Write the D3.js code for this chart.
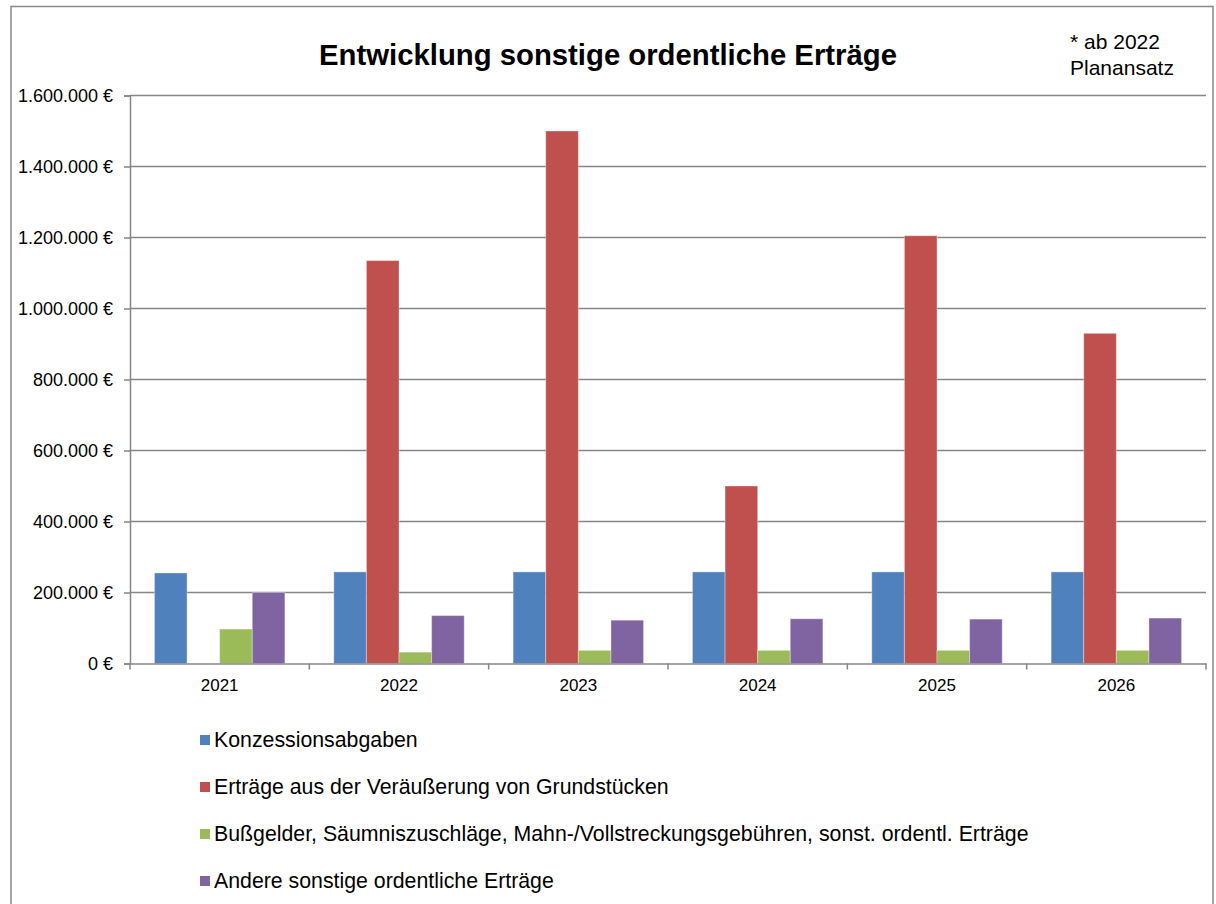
<!DOCTYPE html>
<html>
<head>
<meta charset="utf-8">
<script src="https://cdn.jsdelivr.net/npm/d3@7"></script>
<style>
  body { margin: 0; background: #fff; }
  svg { display: block; font-family: "Liberation Sans", Arial, sans-serif; }
</style>
</head>
<body>
<svg id="chart" width="1216" height="904"></svg>
<script>
const years = ['2021', '2022', '2023', '2024', '2025', '2026'];

const series = ['Konzessionsabgaben',
    'Erträge aus der Veräußerung von Grundstücken',
    'Bußgelder, Säumniszuschläge, Mahn-/Vollstreckungsgebühren, sonst. ordentl. Erträge',
    'Andere sonstige ordentliche Erträge'];

const konzession = [255000, 258000, 258000, 258000, 258000, 258000];
const grundstuecke = [0, 1135000, 1500000, 500000, 1205000, 930000];
const bussgelder = [97000, 32000, 37000, 37000, 37000, 37000];
const andere = [200000, 135000, 122000, 126000, 125000, 128000];

const yTicks = [0, 200000, 400000, 600000, 800000, 1000000, 1200000, 1400000, 1600000];

const colors = ['#4F81BD', '#C0504D', '#9BBB59', '#8064A2'];

const values = [konzession, grundstuecke, bussgelder, andere];
const rows = [];
years.forEach((y, i) => {
    series.forEach((s, j) => rows.push({ year: y, key: s, value: values[j][i] }));
});

const svg = d3.select('#chart');

// outer border of the chart area
svg.append('rect')
    .attr('x', 11).attr('y', 6.5)
    .attr('width', 1202).attr('height', 920)
    .attr('fill', 'none')
    .attr('stroke', '#898989')
    .attr('stroke-width', 1.5);

const plotLeft = 130, plotRight = 1206, plotTop = 95.5, plotBottom = 663.5;

const x0 = d3.scaleBand()
    .domain(years)
    .range([plotLeft, plotRight]);

const x1 = d3.scaleBand()
    .domain(series)
    .range([0, x0.bandwidth()])
    .paddingOuter(0.75);

const yScale = d3.scaleLinear()
    .domain([0, 1600000])
    .range([plotBottom, plotTop]);

const fillScale = d3.scaleOrdinal()
    .domain(series)
    .range(colors);

const de = d3.formatLocale({ decimal: ',', thousands: '.', grouping: [3], currency: ['', ' €'] });
const fmt = de.format('$,.0f');

// gridlines
svg.append('g')
    .selectAll('line')
    .data(yTicks.slice(1))
    .join('line')
    .attr('x1', plotLeft).attr('x2', plotRight)
    .attr('y1', d => yScale(d)).attr('y2', d => yScale(d))
    .attr('stroke', '#868686')
    .attr('stroke-width', 1.5);

// bars
svg.append('g')
    .selectAll('rect')
    .data(rows.filter(d => d.value > 0))
    .join('rect')
    .attr('x', d => x0(d.year) + x1(d.key))
    .attr('y', d => yScale(d.value))
    .attr('width', x1.bandwidth())
    .attr('height', d => plotBottom - yScale(d.value))
    .attr('fill', d => fillScale(d.key))
    .attr('stroke', 'rgba(255,255,255,0.35)')
    .attr('stroke-width', 1);

// y axis
const yAxis = svg.append('g')
    .attr('transform', `translate(${plotLeft},0)`)
    .call(d3.axisLeft(yScale).tickValues(yTicks).tickSize(6).tickPadding(11).tickFormat(fmt));
yAxis.select('.domain').attr('stroke', '#868686').attr('stroke-width', 1.5);
yAxis.selectAll('.tick line').attr('stroke', '#868686').attr('stroke-width', 1.5);
yAxis.selectAll('.tick text')
    .attr('font-size', 18)
    .attr('fill', '#000')
    .attr('font-family', '"Liberation Sans", Arial, sans-serif');

// x axis
const xAxis = svg.append('g')
    .attr('transform', `translate(0,${plotBottom})`)
    .call(d3.axisBottom(x0).tickSize(0).tickPadding(15));
xAxis.select('.domain').attr('stroke', '#868686').attr('stroke-width', 1.5);
xAxis.selectAll('.tick text')
    .attr('font-size', 17)
    .attr('fill', '#000')
    .attr('font-family', '"Liberation Sans", Arial, sans-serif');

// category boundary ticks
xAxis.append('g')
    .selectAll('line')
    .data(years.concat(['end']))
    .join('line')
    .attr('x1', (d, i) => plotLeft + i * x0.step())
    .attr('x2', (d, i) => plotLeft + i * x0.step())
    .attr('y1', 0).attr('y2', 6)
    .attr('stroke', '#868686')
    .attr('stroke-width', 1.5);

// title
svg.append('text')
    .attr('x', 608).attr('y', 65)
    .attr('text-anchor', 'middle')
    .attr('font-size', 29.3)
    .attr('font-weight', 'bold')
    .text('Entwicklung sonstige ordentliche Erträge');

// note
svg.append('text')
    .attr('x', 1070).attr('y', 49)
    .attr('font-size', 21)
    .text('* ab 2022');
svg.append('text')
    .attr('x', 1070).attr('y', 75)
    .attr('font-size', 21)
    .text('Planansatz');

// legend
const legend = svg.append('g')
    .selectAll('g')
    .data(series)
    .join('g')
    .attr('transform', (d, i) => `translate(200,${747 + i * 47})`);

legend.append('rect')
    .attr('x', 0).attr('y', -12)
    .attr('width', 10).attr('height', 10)
    .attr('fill', d => fillScale(d));

legend.append('text')
    .attr('x', 14).attr('y', 0)
    .attr('font-size', 21.3)
    .text(d => d);
</script>
</body>
</html>
